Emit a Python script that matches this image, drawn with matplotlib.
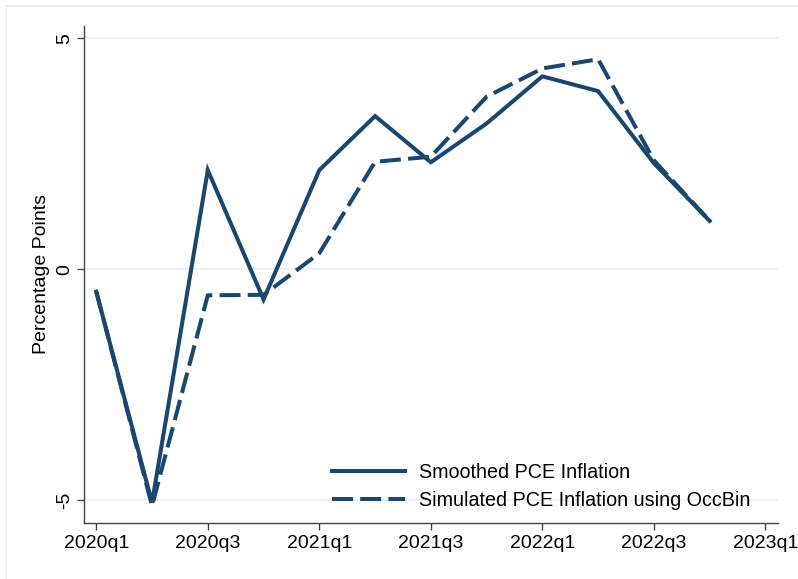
import matplotlib
matplotlib.use("Agg")
import matplotlib.pyplot as plt
from matplotlib.patches import Rectangle

plt.rcParams['font.family'] = ['Liberation Sans', 'DejaVu Sans']

quarters = ["2020q1", "2020q2", "2020q3", "2020q4", "2021q1", "2021q2",
            "2021q3", "2021q4", "2022q1", "2022q2", "2022q3", "2022q4"]
smoothed = [-0.48, -5.05, 2.15, -0.65, 2.15, 3.32, 2.32, 3.16, 4.18, 3.86, 2.30, 1.05]
simulated = [-0.48, -5.12, -0.56, -0.55, 0.35, 2.33, 2.44, 3.74, 4.35, 4.55, 2.36, 1.05]
xtick_labels = ["2020q1", "2020q3", "2021q1", "2021q3", "2022q1", "2022q3", "2023q1"]
ytick_vals = [-5, 0, 5]

navy = "#1a476f"
W, H = 798, 579
fig = plt.figure(figsize=(W / 100, H / 100), dpi=100)
fig.patch.set_facecolor("white")
fig.add_artist(Rectangle((6 / W, -0.05), 1.2, 1 - 6 / H + 0.05, transform=fig.transFigure,
                         fill=False, edgecolor="#e6eef0", linewidth=1.2))

l, r, b, t = 84 / W, 777.7 / W, 1 - 523 / H, 1 - 26 / H
ax = fig.add_axes([l, b, r - l, t - b])

x = list(range(len(quarters)))
ax.plot(x, smoothed, color=navy, lw=2.9, solid_joinstyle="miter",
        label="Smoothed PCE Inflation")
ax.plot(x, simulated, color=navy, lw=2.9, dashes=(5.2, 1.8), dash_capstyle="butt",
        label="Simulated PCE Inflation using OccBin")

ax.set_xlim(-0.22, 12.22)
ax.set_ylim(-5.49, 5.27)
ax.set_xticks(range(0, 13, 2))
ax.set_xticklabels(xtick_labels, fontsize=14)
ax.set_yticks(ytick_vals)
ax.set_yticklabels([str(v) for v in ytick_vals], fontsize=14, rotation=90, va="center")
for yv in ytick_vals:
    ax.axhline(yv, color="#eaf2f3", lw=1.3, zorder=0)

for s in ["top", "right"]:
    ax.spines[s].set_visible(False)
for s in ["left", "bottom"]:
    ax.spines[s].set_color("#444444")
    ax.spines[s].set_linewidth(1.0)
ax.tick_params(axis="both", direction="out", length=5, width=1, color="#444444", labelcolor="black")
ax.tick_params(axis="x", pad=4)
ax.tick_params(axis="y", pad=3)

ax.set_ylabel("Percentage Points", fontsize=14, labelpad=4)

leg = ax.legend(loc="lower right", bbox_to_anchor=(0.986, -0.010), frameon=False, fontsize=14.2,
                handlelength=3.7, handletextpad=0.7, labelspacing=0.45)

fig.savefig("out.png", dpi=100, facecolor="white")
